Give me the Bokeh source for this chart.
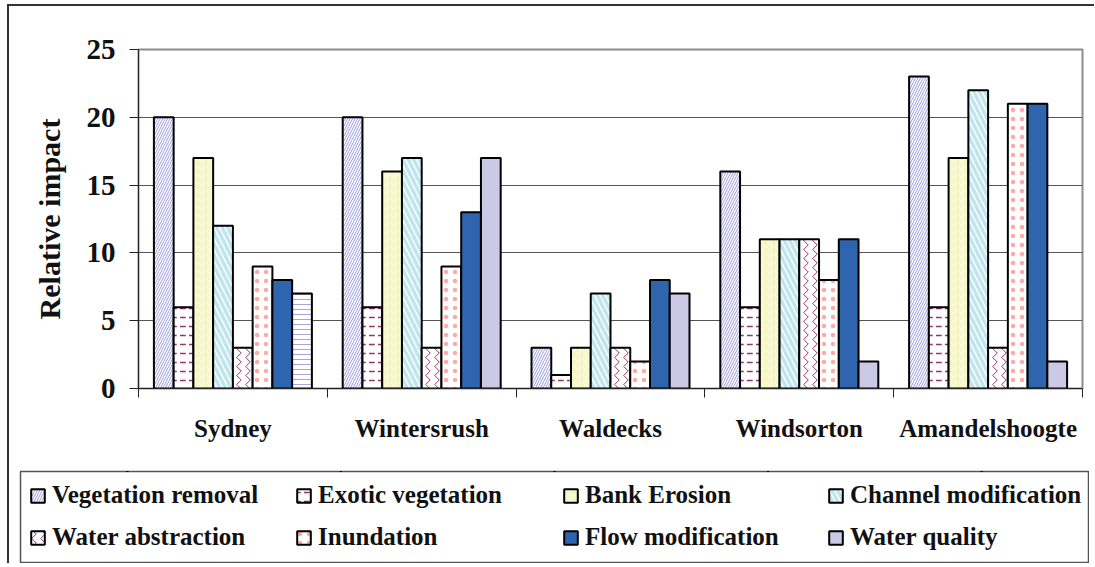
from bokeh.plotting import figure
from bokeh.layouts import column, row
from bokeh.models import (Range1d, LinearAxis, FixedTicker,
                          Legend, LegendItem, ColumnDataSource)
from bokeh.transform import dodge
from bokeh.embed import file_html
from bokeh.resources import INLINE

# ---------------- data ----------------
sites = ["Sydney", "Wintersrush", "Waldecks", "Windsorton", "Amandelshoogte"]
series = ["Vegetation removal", "Exotic vegetation", "Bank Erosion", "Channel modification",
          "Water abstraction", "Inundation", "Flow modification", "Water quality"]
vegetation_removal = [20, 20, 3, 16, 23]
exotic_vegetation = [6, 6, 1, 6, 6]
bank_erosion = [17, 16, 3, 11, 17]
channel_modification = [12, 17, 7, 11, 22]
water_abstraction = [3, 3, 3, 11, 3]
inundation = [9, 9, 2, 8, 21]
flow_modification = [8, 13, 8, 11, 21]
water_quality = [7, 17, 7, 2, 2]
y_ticks = [0, 5, 10, 15, 20, 25]
y_title = "Relative impact"

values = [vegetation_removal, exotic_vegetation, bank_erosion, channel_modification,
          water_abstraction, inundation, flow_modification, water_quality]

# ---------------- styles ----------------
FONT = "Liberation Serif"
LAV = "#ccc9e6"
styles = [
    dict(fill_color="white", hatch_pattern="right_diagonal_line", hatch_color="#9a9ae0", hatch_scale=5, hatch_weight=1),
    dict(fill_color="white", hatch_pattern="horizontal_dash", hatch_color="#993366", hatch_scale=9, hatch_weight=1.5),
    dict(fill_color="#fbfbd6", hatch_pattern="criss_cross", hatch_color="#f3f3bd", hatch_scale=8, hatch_weight=1),
    dict(fill_color="white", hatch_pattern="left_diagonal_line", hatch_color="#bfe6ee", hatch_scale=11, hatch_weight=3.5),
    dict(fill_color="white", hatch_pattern="vertical_wave", hatch_color="#993366", hatch_scale=9, hatch_weight=1),
    dict(fill_color="white", hatch_pattern="dot", hatch_color="#ffaaaa", hatch_scale=9, hatch_weight=0.8),
    dict(fill_color="#2f64ae"),
    dict(fill_color=LAV),
]
wq_fill = ["white", LAV, LAV, LAV, LAV]
wq_hatch = ["horizontal_line", " ", " ", " ", " "]

# group centres on a numeric axis (one unit per site)
centres = [i + 0.5 for i in range(len(sites))]
cols = {"xc": centres, "site": sites, "wq_fill": wq_fill, "wq_hatch": wq_hatch}
keys = []
for j, v in enumerate(values):
    k = "s%d" % j
    keys.append(k)
    cols[k] = v
src = ColumnDataSource(cols)

W, H = 1085, 464
p = figure(x_range=Range1d(0, len(sites)), y_range=Range1d(0, max(y_ticks)),
           width=W, height=H, output_backend="svg", toolbar_location=None,
           x_axis_location=None,
           min_border_left=129, min_border_right=12, min_border_top=43, min_border_bottom=82)
p.background_fill_color = "white"
p.border_fill_color = "white"
p.outline_line_color = "#8c8c8c"
p.outline_line_width = 2
p.xgrid.grid_line_color = None
p.ygrid.grid_line_color = "#555555"
p.ygrid.grid_line_width = 1
p.ygrid.ticker = FixedTicker(ticks=y_ticks)

# y axis
ya = p.yaxis[0]
ya.ticker = FixedTicker(ticks=y_ticks)
ya.axis_label = y_title
ya.axis_label_text_font = FONT
ya.axis_label_text_font_style = "bold"
ya.axis_label_text_font_size = "30px"
ya.axis_label_text_color = "#111111"
ya.axis_label_standoff = 18
ya.major_label_text_font = FONT
ya.major_label_text_font_style = "bold"
ya.major_label_text_font_size = "29px"
ya.major_label_text_color = "#111111"
ya.major_label_standoff = 14
ya.major_tick_out = 9
ya.major_tick_in = 0
ya.minor_tick_line_color = None
ya.axis_line_color = "#222222"
ya.major_tick_line_color = "#222222"

# x axis: tick marks at group boundaries
tick_axis = LinearAxis(ticker=FixedTicker(ticks=list(range(len(sites) + 1))),
                       major_label_overrides={i: "" for i in range(len(sites) + 1)},
                       major_label_text_font_size="1px", major_label_standoff=0,
                       major_tick_out=9, major_tick_in=0,
                       minor_tick_line_color=None,
                       axis_line_color="#222222", major_tick_line_color="#222222")
p.add_layout(tick_axis, "below")
# x axis: site names at group centres
name_axis = LinearAxis(ticker=FixedTicker(ticks=centres),
                       major_label_overrides={c: s for c, s in zip(centres, sites)},
                       axis_line_color=None, major_tick_line_color=None,
                       minor_tick_line_color=None,
                       major_label_text_font=FONT, major_label_text_font_style="bold",
                       major_label_text_font_size="25px", major_label_text_color="#111111",
                       major_label_standoff=11)
p.add_layout(name_axis, "below")

# bars
n = len(series)
bw = 0.1046


def bar_kwargs(j):
    if j == n - 1:
        return dict(fill_color="wq_fill", hatch_pattern="wq_hatch",
                    hatch_color="#a6a6d8", hatch_scale=5, hatch_weight=1)
    return styles[j]


for j, name in enumerate(series):
    off = (j - (n - 1) / 2) * bw
    p.vbar(x=dodge("xc", off), top=keys[j], width=bw, bottom=0,
           source=src, line_color="black", line_width=2, **bar_kwargs(j))

# ---------------- legend panel (its frame is the legend box) ----------------
# its y range lies below all data, so its renderers only feed the legend swatches
lf = figure(x_range=Range1d(0, len(sites)), y_range=Range1d(-2, -1),
            width=1070, height=93,
            output_backend="svg", toolbar_location=None,
            x_axis_location=None, y_axis_location=None,
            min_border_left=1, min_border_right=1, min_border_top=1, min_border_bottom=1)
lf.xgrid.grid_line_color = None
lf.ygrid.grid_line_color = None
lf.outline_line_color = "#555555"
lf.outline_line_width = 1.5
lf.background_fill_color = "white"
lf.border_fill_color = "white"

col_x = [9, 275, 542, 807]
row_y = [52, 10]
for j, name in enumerate(series):
    rr, c = divmod(j, 4)
    r = lf.vbar(x=dodge("xc", 0), top=keys[j], width=0, bottom=0, source=src,
                line_color="black", line_width=2, **styles[j])
    lg = Legend(items=[LegendItem(label=name, renderers=[r])],
                location=(col_x[c], row_y[rr]),
                orientation="vertical", padding=0, margin=0,
                border_line_color=None, background_fill_alpha=0,
                glyph_width=17, glyph_height=17, label_standoff=6,
                label_height=30,
                label_text_font=FONT, label_text_font_style="bold",
                label_text_font_size="25px", label_text_color="#111111")
    lf.add_layout(lg, "center")

lrow = row(lf)
lrow.margin = (0, 0, 0, 10)
layout = column(p, lrow, spacing=0)
layout.margin = (4, 0, 0, 7)
layout.styles = {"border-left": "2px solid #333333", "border-top": "2px solid #333333"}

open("out.html", "w").write(file_html(layout, INLINE))
